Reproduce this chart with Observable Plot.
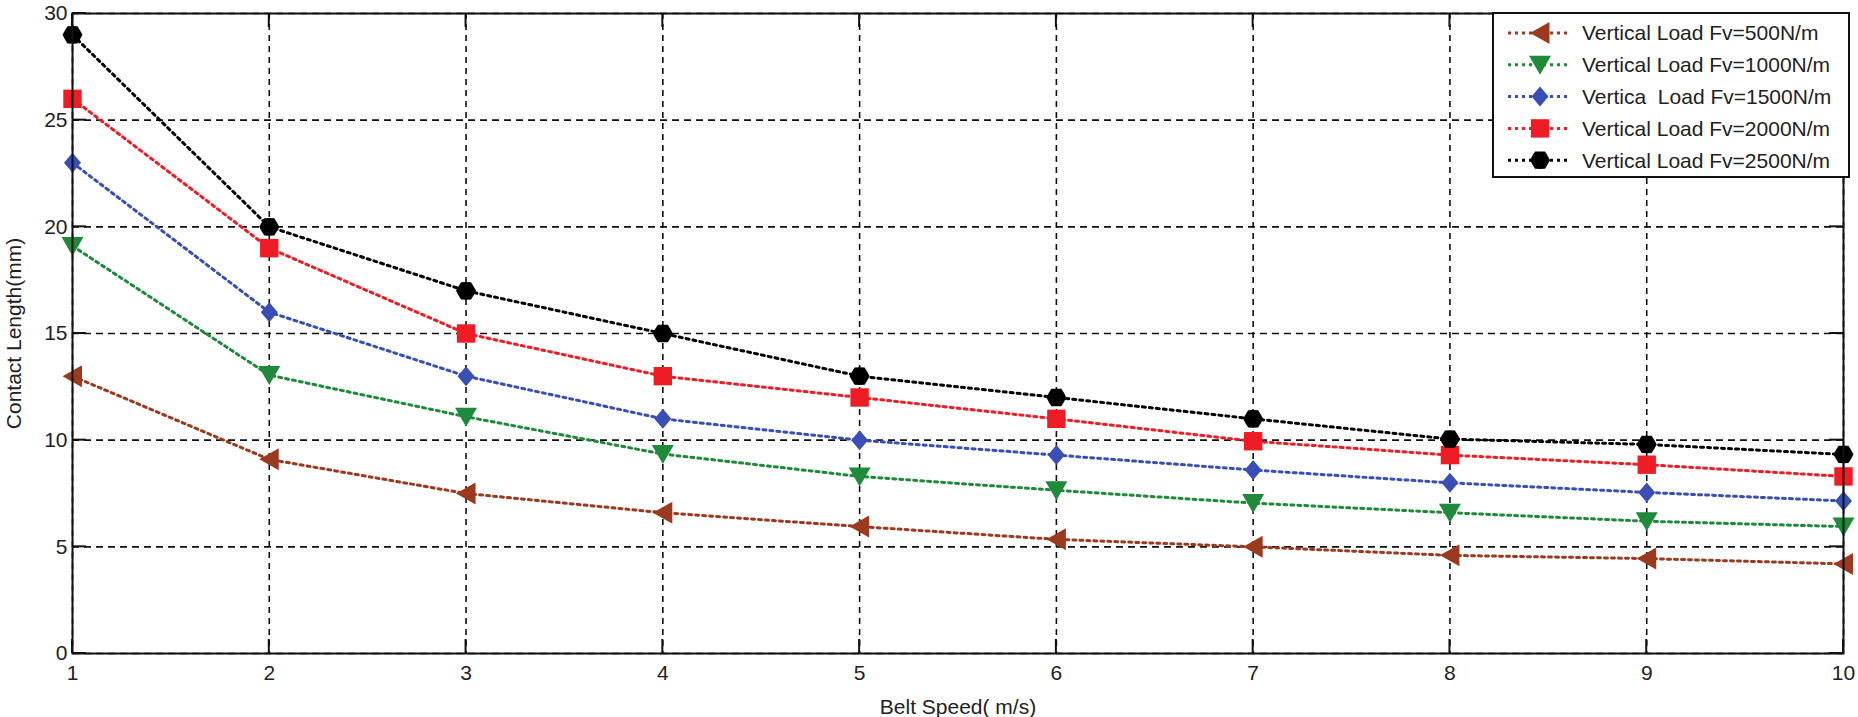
<!DOCTYPE html>
<html>
<head>
<meta charset="utf-8">
<script src="https://cdn.jsdelivr.net/npm/d3@7"></script>
<script src="https://cdn.jsdelivr.net/npm/@observablehq/plot@0.6"></script>
<style>
  html, body { margin: 0; padding: 0; background: #fff; }
</style>
</head>
<body>
<div id="chart"></div>
<script>
// ---- data ----
const speeds = [1, 2, 3, 4, 5, 6, 7, 8, 9, 10];
const seriesNames = [
  "Vertical Load Fv=500N/m",
  "Vertical Load Fv=1000N/m",
  "Vertica  Load Fv=1500N/m",
  "Vertical Load Fv=2000N/m",
  "Vertical Load Fv=2500N/m"
];
const load500  = [13.0, 9.1, 7.5, 6.6, 5.95, 5.35, 5.0, 4.6, 4.45, 4.2];
const load1000 = [19.1, 13.05, 11.1, 9.35, 8.3, 7.65, 7.05, 6.6, 6.2, 5.95];
const load1500 = [23.0, 16.0, 13.0, 11.0, 10.0, 9.3, 8.6, 8.0, 7.55, 7.15];
const load2000 = [26.0, 19.0, 15.0, 13.0, 12.0, 11.0, 9.95, 9.3, 8.85, 8.3];
const load2500 = [29.0, 20.0, 17.0, 15.0, 13.0, 12.0, 11.0, 10.05, 9.8, 9.33];
const seriesValues = [load500, load1000, load1500, load2000, load2500];
const seriesColors = ["#9b3a1f", "#1e8a3a", "#3a4fb3", "#ee1d25", "#000000"];
const xTicks = [1, 2, 3, 4, 5, 6, 7, 8, 9, 10];
const yTicks = [0, 5, 10, 15, 20, 25, 30];
const xLabel = "Belt Speed( m/s)";
const yLabel = "Contact Length(mm)";

// ---- custom marker shapes (size -> radius in px) ----
const rad = s => Math.sqrt(s / Math.PI);
const triLeft = { draw(c, s) { const r = rad(s); c.moveTo(-r, 0); c.lineTo(r * 0.95, -r * 1.1); c.lineTo(r * 0.95, r * 1.1); c.closePath(); } };
const triDown = { draw(c, s) { const r = rad(s); c.moveTo(-r * 1.1, -r * 0.9); c.lineTo(r * 1.1, -r * 0.9); c.lineTo(0, r * 1.0); c.closePath(); } };
const diamond = { draw(c, s) { const r = rad(s); c.moveTo(0, -r); c.lineTo(r * 0.85, 0); c.lineTo(0, r); c.lineTo(-r * 0.85, 0); c.closePath(); } };
const square  = { draw(c, s) { const r = rad(s) * 0.92; c.rect(-r, -r, 2 * r, 2 * r); } };
const hexa    = { draw(c, s) { const r = rad(s); const n = 12; for (let i = 0; i < n; i++) { const a = (i / n) * 2 * Math.PI; const rr = i % 2 ? r * 0.88 : r; const px = rr * Math.cos(a), py = rr * Math.sin(a); i ? c.lineTo(px, py) : c.moveTo(px, py); } c.closePath(); } };
const seriesSymbols = [triLeft, triDown, diamond, square, hexa];

const rows = [];
seriesNames.forEach((name, i) => speeds.forEach((x, j) => rows.push({ series: name, i, x, y: seriesValues[i][j] })));

const W = 1858, H = 717;
const mL = 72, mR = 15, mT = 13, mB = 64;
const font = "Liberation Sans, Arial, Helvetica, sans-serif";
const fmt = d3.format("d");

const marks = [
  Plot.gridX(xTicks, { stroke: "#111", strokeOpacity: 1, strokeWidth: 1.6, strokeDasharray: "6,5" }),
  Plot.gridY(yTicks, { stroke: "#111", strokeOpacity: 1, strokeWidth: 1.6, strokeDasharray: "7,5" }),
  Plot.axisX(xTicks, { tickSize: 0, tickPadding: 12, tickFormat: fmt, label: xLabel, labelAnchor: "center", labelOffset: 60, labelArrow: "none", fill: "#222" }),
  Plot.axisY(yTicks, { tickSize: 0, tickPadding: 5, tickFormat: fmt, label: yLabel, labelAnchor: "center", labelOffset: 66, labelArrow: "none", fill: "#222" })
];
seriesNames.forEach((name, i) => {
  const d = rows.filter(r => r.i === i);
  marks.push(Plot.line(d, { x: "x", y: "y", stroke: seriesColors[i], strokeWidth: 3, strokeDasharray: "3,4" }));
});
seriesNames.forEach((name, i) => {
  const d = rows.filter(r => r.i === i);
  marks.push(Plot.dot(d, { x: "x", y: "y", symbol: seriesSymbols[i], r: 10, fill: seriesColors[i], stroke: "none" }));
});
marks.push(Plot.frame({ stroke: "#111", strokeWidth: 2 }));

const plot = Plot.plot({
  width: W, height: H,
  marginLeft: mL, marginRight: mR, marginTop: mT, marginBottom: mB,
  style: { fontFamily: font, fontSize: "21px", background: "#fff", color: "#222" },
  x: { domain: [1, 10] },
  y: { domain: [0, 30] },
  marks
});
document.getElementById("chart").appendChild(plot);

// ---- inner MATLAB-style ticks and legend ----
const svg = d3.select(plot);
const xs = plot.scale("x"), ys = plot.scale("y");
const x0 = mL, x1 = W - mR, y0 = mT, y1 = H - mB;
const tl = 14;
const tg = svg.append("g").attr("stroke", "#111").attr("stroke-width", 2);
xTicks.forEach(v => {
  const px = xs.apply(v);
  tg.append("line").attr("x1", px).attr("x2", px).attr("y1", y1).attr("y2", y1 - tl);
  tg.append("line").attr("x1", px).attr("x2", px).attr("y1", y0).attr("y2", y0 + tl);
});
yTicks.forEach(v => {
  const py = ys.apply(v);
  tg.append("line").attr("x1", x0).attr("x2", x0 + tl).attr("y1", py).attr("y2", py);
  tg.append("line").attr("x1", x1).attr("x2", x1 - tl).attr("y1", py).attr("y2", py);
});

const lg = svg.append("g");
const lx = 1493, ly = 13, lw = 356, lh = 164;
lg.append("rect").attr("x", lx).attr("y", ly).attr("width", lw).attr("height", lh)
  .attr("fill", "#fff").attr("stroke", "#111").attr("stroke-width", 2);
const markerR = 10;
const symSize = Math.PI * markerR * markerR;
seriesNames.forEach((name, i) => {
  const cy = ly + 20 + i * 31.8;
  lg.append("line").attr("x1", lx + 15).attr("x2", lx + 78).attr("y1", cy).attr("y2", cy)
    .attr("stroke", seriesColors[i]).attr("stroke-width", 3).attr("stroke-dasharray", "3,4");
  const p = d3.path();
  seriesSymbols[i].draw(p, symSize);
  lg.append("path").attr("d", p.toString()).attr("transform", `translate(${lx + 47},${cy})`).attr("fill", seriesColors[i]);
  lg.append("text").attr("x", lx + 89).attr("y", cy).attr("dy", "0.35em")
    .attr("text-anchor", "start")
    .attr("font-family", font).attr("font-size", 21).attr("fill", "#222")
    .style("white-space", "pre").text(name);
});
</script>
</body>
</html>
